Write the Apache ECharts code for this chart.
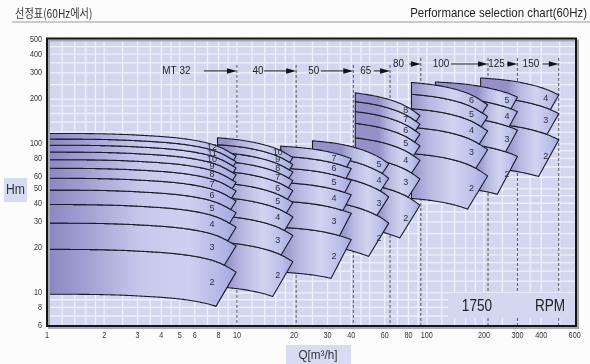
<!DOCTYPE html>
<html><head><meta charset="utf-8">
<script src="https://cdn.jsdelivr.net/npm/echarts@6/dist/echarts.min.js"></script>
<style>html,body{margin:0;padding:0;background:#fcfcfc}#c{width:590px;height:364px}</style>
</head><body><div id="c"></div>
<script>
// ---------------- data ----------------
const groupNames = ['MT 32','40','50','65','80','100','125','150'];
const groupStages = [12,10,7,5,8,6,5,4];
// per-stage head curve of each pump size: flow points (m3/h) and head per stage (m)
const curveQ = [
  [1,3,6,8,9.9],
  [7.9,12,16.4,19.7],
  [17,25,32.4,40],
  [25,40,56,63],
  [42,60,77.5,92],
  [83,130,172,209],
  [111,180,264,300],
  [192,300,423,495]
];
const curveH = [
  [9.8,9.55,8.8,8.0,6.9],
  [11.0,10.3,9.2,8.1],
  [13.8,13.2,12.4,11.4],
  [21.0,19.2,16.3,14.7],
  [27.5,25.3,22.4,19.4],
  [43.1,39.8,35.5,30.5],
  [52.1,49.3,44.0,41.2],
  [69.3,65.2,58.3,53.2]
];
const labelQ = [7.4,16.4,32.4,56,77.5,172,264,423];
const dashQ = [10,20.5,41,64,93,210,300,495];
const arrowFromQ = [6.7,13.9,27.7,52.6,80.6,134,264,406];
const tagQ = [4.8,12.9,25.4,47.7,71,118.6,233,353];
const tagH = [309,309,309,309,344,344,344,344];
const xTicks = [1,2,3,4,5,6,8,10,20,30,40,60,80,100,200,300,400,600];
const yTicks = [6,8,10,20,30,40,50,60,80,100,200,300,400,500];
const gridQ = [1.2,1.4,1.6,1.8,2,2.5,3,3.5,4,4.5,5,6,7,8,9,10,12,14,16,18,20,25,30,35,40,45,50,60,70,80,90,100,120,140,160,180,200,250,300,350,400,500];
const gridH = [7,8,9,10,12,14,16,18,20,25,30,35,40,45,50,60,70,80,90,100,120,140,160,180,200,250,300,350,400,450];

// ---------------- styling ----------------
const NUMFONT = '"Liberation Sans", Arial, sans-serif';
const SLANT = 0.45;
const firstStops = [
  {offset:0,color:'#8a87c1'},{offset:0.2,color:'#a19fd2'},{offset:0.5,color:'#c7c9ec'},
  {offset:0.75,color:'#cdd0f0'},{offset:0.92,color:'#b3b8e6'},{offset:1,color:'#a2a8de'}];
const otherStops = [
  {offset:0,color:'#9591c8'},{offset:0.25,color:'#b8b9e2'},{offset:0.55,color:'#d1d3f0'},
  {offset:0.82,color:'#bcc1ea'},{offset:1,color:'#a1a8df'}];

function makeInterp(P){
  const n=P.length, xs=P.map(p=>p[0]), ys=P.map(p=>p[1]);
  const d=[]; for(let i=0;i<n-1;i++) d.push((ys[i+1]-ys[i])/(xs[i+1]-xs[i]));
  const m=new Array(n);
  for(let i=1;i<n-1;i++) m[i]=(d[i-1]+d[i])/2;
  if(n>2){
    m[0]=1.5*d[0]-0.5*m[1]; if(m[0]*d[0]<0) m[0]=0;
    m[n-1]=1.5*d[n-2]-0.5*m[n-2];
  } else { m[0]=d[0]; m[1]=d[0]; }
  return function(x){
    let i=0; while(i<n-2 && x>xs[i+1]) i++;
    const h=xs[i+1]-xs[i], t=(x-xs[i])/h, t2=t*t, t3=t2*t;
    return (2*t3-3*t2+1)*ys[i]+(t3-2*t2+t)*h*m[i]+(-2*t3+3*t2)*ys[i+1]+(t3-t2)*h*m[i+1];
  };
}

function renderBand(params, api){
  const g=api.value(2), n=api.value(3);
  const P=curveQ[g].map((q,i)=>api.coord([q,curveH[g][i]]));
  const Y=makeInterp(P);
  const D=api.coord([1,10])[1]-api.coord([1,100])[1];
  const off=k=>D*Math.log10(k);
  const xs=P[0][0], xe=P[P.length-1][0];
  const pts=[];
  for(let x=xs;x<xe;x+=1.5) pts.push([x,Y(x)-off(n)]);
  pts.push([xe,Y(xe)-off(n)]);
  const xb=xe-SLANT*(off(n)-off(n-1));
  pts.push([xb,Y(xb)-off(n-1)]);
  for(let x=xb-1.5;x>xs;x-=1.5) pts.push([x,Y(x)-off(n-1)]);
  pts.push([xs,Y(xs)-off(n-1)]);
  let gx0 = xs;
  if(g>0){ const pq=curveQ[g-1]; gx0=api.coord([pq[pq.length-1],10])[0]-10; }
  const fill=new echarts.graphic.LinearGradient(gx0,0,xe,0,g===0?firstStops:otherStops,true);
  const lx=api.coord([labelQ[g],10])[0];
  const ly=Y(lx)-(off(n)+off(n-1))/2;
  return {type:'group',children:[
    {type:'polygon',shape:{points:pts},style:{fill:fill,stroke:'#1c1c28',lineWidth:1.1,lineJoin:'round'}},
    {type:'text',x:lx,y:ly,style:{text:String(n),fill:'#2e2e3c',font:'9px '+NUMFONT,
      textAlign:'center',align:'center',textVerticalAlign:'middle',verticalAlign:'middle'}}
  ]};
}

const bandData=[];
for(let g=groupStages.length-1; g>=0; g--){
  for(let n=2;n<=groupStages[g];n++) bandData.push([labelQ[g],10,g,n]);
}

const option={
  animation:false,
  backgroundColor:'#fcfcfc',
  grid:{left:47,top:38.5,width:529,height:287.5,show:true,backgroundColor:'#d2d7ef',borderWidth:0},
  xAxis:{type:'log',logBase:10,min:1,max:610,axisLine:{show:false},axisTick:{show:false},axisLabel:{show:false},splitLine:{show:false}},
  yAxis:{type:'log',logBase:10,min:6,max:510,axisLine:{show:false},axisTick:{show:false},axisLabel:{show:false},splitLine:{show:false}},
  series:[
    {type:'custom',z:1,silent:true,data:gridQ.map(q=>[q,6]),encode:{x:0,y:1},
      renderItem:(p,api)=>{const a=api.coord([api.value(0),6]),b=api.coord([api.value(0),510]);
        return {type:'line',shape:{x1:a[0],y1:a[1],x2:b[0],y2:b[1]},style:{stroke:'#eef0fb',lineWidth:1.3}};}},
    {type:'custom',z:1,silent:true,data:gridH.map(h=>[1,h]),encode:{x:0,y:1},
      renderItem:(p,api)=>{const a=api.coord([1,api.value(1)]),b=api.coord([610,api.value(1)]);
        return {type:'line',shape:{x1:a[0],y1:a[1],x2:b[0],y2:b[1]},style:{stroke:'#eef0fb',lineWidth:1.3}};}},
    {type:'custom',z:2,silent:true,data:dashQ.map((q,i)=>[q,tagH[i],i]),encode:{x:0,y:1},
      renderItem:(p,api)=>{const a=api.coord([api.value(0),api.value(1)]),b=api.coord([api.value(0),6]);
        return {type:'line',shape:{x1:a[0],y1:a[1]-6,x2:b[0],y2:b[1]},style:{stroke:'#555',lineWidth:1,lineDash:[3,2]}};}},
    {type:'custom',z:3,silent:true,data:bandData,encode:{x:0,y:1},renderItem:renderBand},
    {type:'custom',z:4,silent:true,data:dashQ.map((q,i)=>[q,tagH[i],i]),encode:{x:0,y:1},
      renderItem:(p,api)=>{
        const i=api.value(2);
        const a=api.coord([arrowFromQ[i],tagH[i]]), b=api.coord([dashQ[i],tagH[i]]), t=api.coord([tagQ[i],tagH[i]]);
        return {type:'group',children:[
          {type:'line',shape:{x1:a[0],y1:a[1],x2:b[0]-8,y2:b[1]},style:{stroke:'#222',lineWidth:1}},
          {type:'polygon',shape:{points:[[b[0]-10,b[1]-2.8],[b[0],b[1]],[b[0]-10,b[1]+2.8]]},style:{fill:'#111'}},
          {type:'text',x:t[0],y:t[1],scaleX:0.9,style:{text:groupNames[i],fill:'#222',font:'11px '+NUMFONT,
            textAlign:'center',align:'center',textVerticalAlign:'middle',verticalAlign:'middle'}}
        ]};
      }},
    {type:'custom',z:5,silent:true,data:xTicks.map(v=>[v,6]),encode:{x:0,y:1},
      renderItem:(p,api)=>{const a=api.coord([api.value(0),6]);
        return {type:'text',x:a[0],y:a[1]+10,scaleX:0.85,style:{text:String(api.value(0)),fill:'#333',font:'8.5px '+NUMFONT,
          textAlign:'center',align:'center',textVerticalAlign:'middle',verticalAlign:'middle'}};}},
    {type:'custom',z:5,silent:true,data:yTicks.map(v=>[1,v]),encode:{x:0,y:1},
      renderItem:(p,api)=>{const a=api.coord([1,api.value(1)]);
        return {type:'text',x:a[0]-5,y:a[1],scaleX:0.85,style:{text:String(api.value(1)),fill:'#333',font:'8.5px '+NUMFONT,
          textAlign:'right',align:'right',textVerticalAlign:'middle',verticalAlign:'middle'}};}}
  ],
  graphic:[
    {type:'text',x:15,y:13,scaleX:0.85,z:10,style:{text:'선정표(60Hz에서)',font:'12px "Noto Sans CJK KR", sans-serif',fill:'#333',textVerticalAlign:'middle',verticalAlign:'middle'}},
    {type:'text',x:587,y:13,scaleX:0.88,z:10,style:{text:'Performance selection chart(60Hz)',font:'13px '+NUMFONT,fill:'#1e1e1e',textAlign:'right',align:'right',textVerticalAlign:'middle',verticalAlign:'middle'}},
    {type:'line',z:10,shape:{x1:12,y1:22,x2:590,y2:22},style:{stroke:'#9a9a9a',lineWidth:1}},
    {type:'rect',z:10,shape:{x:4,y:178,width:23,height:24},style:{fill:'#d5dcf3'}},
    {type:'text',x:15.5,y:190,scaleX:0.87,z:11,style:{text:'Hm',font:'14px '+NUMFONT,fill:'#333',textAlign:'center',align:'center',textVerticalAlign:'middle',verticalAlign:'middle'}},
    {type:'rect',z:10,shape:{x:286,y:345,width:65,height:19},style:{fill:'#d5dcf3'}},
    {type:'text',x:318,y:355,scaleX:0.9,z:11,style:{text:'Q[m³/h]',font:'13px '+NUMFONT,fill:'#333',textAlign:'center',align:'center',textVerticalAlign:'middle',verticalAlign:'middle'}},
    {type:'rect',z:10,shape:{x:448,y:293,width:128,height:25},style:{fill:'#d3d8f0'}},
    {type:'text',x:477,y:306,scaleX:0.8,z:11,style:{text:'1750',font:'17px '+NUMFONT,fill:'#222',textAlign:'center',align:'center',textVerticalAlign:'middle',verticalAlign:'middle'}},
    {type:'text',x:550,y:306,scaleX:0.8,z:11,style:{text:'RPM',font:'17px '+NUMFONT,fill:'#222',textAlign:'center',align:'center',textVerticalAlign:'middle',verticalAlign:'middle'}},
    {type:'rect',z:19,shape:{x:49,y:40.5,width:529,height:287.5},style:{fill:null,stroke:'#a8a8b0',lineWidth:2}},
    {type:'rect',z:20,shape:{x:47,y:38.5,width:529,height:287.5},style:{fill:null,stroke:'#151515',lineWidth:2}}
  ]
};
const chart=echarts.init(document.getElementById('c'),null,{renderer:'canvas',width:590,height:364});
chart.setOption(option);
</script>
</body></html>
